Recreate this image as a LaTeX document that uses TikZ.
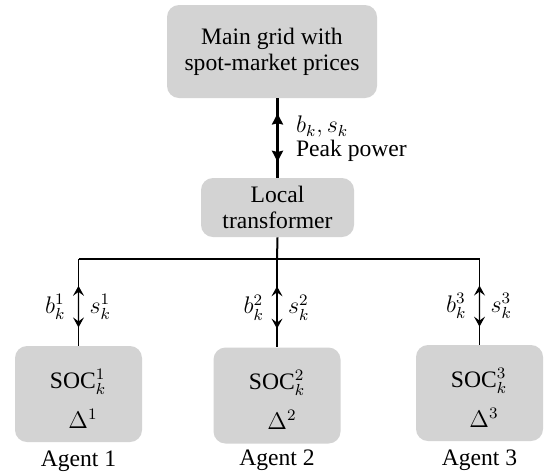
\documentclass[tikz,border=0pt]{standalone}
\usepackage{fontspec}
\setmainfont{Liberation Serif}
\usepackage{amsmath}
\usetikzlibrary{positioning,arrows.meta,calc}
\definecolor{boxgray}{RGB}{211,211,211}

\begin{document}
\begin{tikzpicture}[x=0.5pt,y=-0.5pt,
  font=\fontsize{11.8}{13}\selectfont,
  box/.style={fill=boxgray, rounded corners=6pt, align=center, inner sep=0pt},
  agentbox/.style={box, minimum width=63.5pt, minimum height=48pt},
  inbox/.style={inner sep=1pt},
  link/.style={line width=0.7pt},
  trunk/.style={line width=1.2pt},
  bigtip/.style={{Stealth[length=5.5pt,width=5.5pt,inset=0.6pt]}-{Stealth[length=5.5pt,width=5.5pt,inset=0.6pt]}},
  smalltip/.style={{Stealth[length=5pt,width=5.5pt,inset=2pt]}-{Stealth[length=5pt,width=5.5pt,inset=2pt]}}]
\useasboundingbox (0,0) rectangle (544,472);

\node[box, minimum width=105pt, minimum height=46.5pt] (grid)  at (272,51.5)  {Main grid with\\spot-market prices};
\node[box, minimum width=76.5pt, minimum height=29.5pt] (trafo) at (277.5,207.5) {Local\\transformer};

\node[agentbox] (ag1) at (78.5,394) {};
\node[agentbox] (ag2) at (277,395.5) {};
\node[agentbox] (ag3) at (479.5,393) {};
\node[inbox] (soc1) at (78,382)  {$\mathrm{SOC}^1_k$};
\node[inbox] (soc2) at (277,383) {$\mathrm{SOC}^2_k$};
\node[inbox] (soc3) at (479,381) {$\mathrm{SOC}^3_k$};
\node[inbox] (del1) at (83,419)  {$\Delta^1$};
\node[inbox] (del2) at (282,420) {$\Delta^2$};
\node[inbox] (del3) at (484,418) {$\Delta^3$};
\node[inbox, below=3pt of ag1] (name1) {Agent 1};
\node[inbox, below=2pt of ag2] (name2) {Agent 2};
\node[inbox, below=3pt of ag3] (name3) {Agent 3};

% grid <-> transformer
\coordinate (up) at (trafo.north |- grid.south);
\draw[trunk] (up) -- (trafo.north);
\draw[trunk, bigtip] ($(up)!.19!(trafo.north)$) -- ($(up)!.8!(trafo.north)$);
\node[anchor=west, align=left] (flowlbl) at (289,139) {$b_k, s_k$\\[-1pt]Peak power};

% bus to the agents
\coordinate (bus) at (277,259);
\coordinate (j1) at (ag1.north |- bus);
\coordinate (j2) at (ag2.north |- bus);
\coordinate (j3) at (ag3.north |- bus);
\draw[line width=1pt] (trafo.south) -- (bus);
\draw[link] (j1) -- (j3);
\draw[link] (j1) -- (ag1.north);
\draw[link] (j2) -- (ag2.north);
\draw[link] (j3) -- (ag3.north);
\draw[link, smalltip] ($(j1)!.31!(ag1.north)$) -- ($(j1)!.79!(ag1.north)$);
\draw[link, smalltip] ($(j2)!.31!(ag2.north)$) -- ($(j2)!.79!(ag2.north)$);
\draw[link, smalltip] ($(j3)!.31!(ag3.north)$) -- ($(j3)!.79!(ag3.north)$);
\node[anchor=east] (b1) at ($(j1)!.55!(ag1.north)+(-6,0)$) {$b^1_k$};
\node[anchor=east] (b2) at ($(j2)!.55!(ag2.north)+(-6,0)$) {$b^2_k$};
\node[anchor=east] (b3) at ($(j3)!.55!(ag3.north)+(-6,0)$) {$b^3_k$};
\node[anchor=west] (s1) at ($(j1)!.55!(ag1.north)+(4,0)$) {$s^1_k$};
\node[anchor=west] (s2) at ($(j2)!.55!(ag2.north)+(4,0)$) {$s^2_k$};
\node[anchor=west] (s3) at ($(j3)!.55!(ag3.north)+(4,0)$) {$s^3_k$};
\end{tikzpicture}
\end{document}
